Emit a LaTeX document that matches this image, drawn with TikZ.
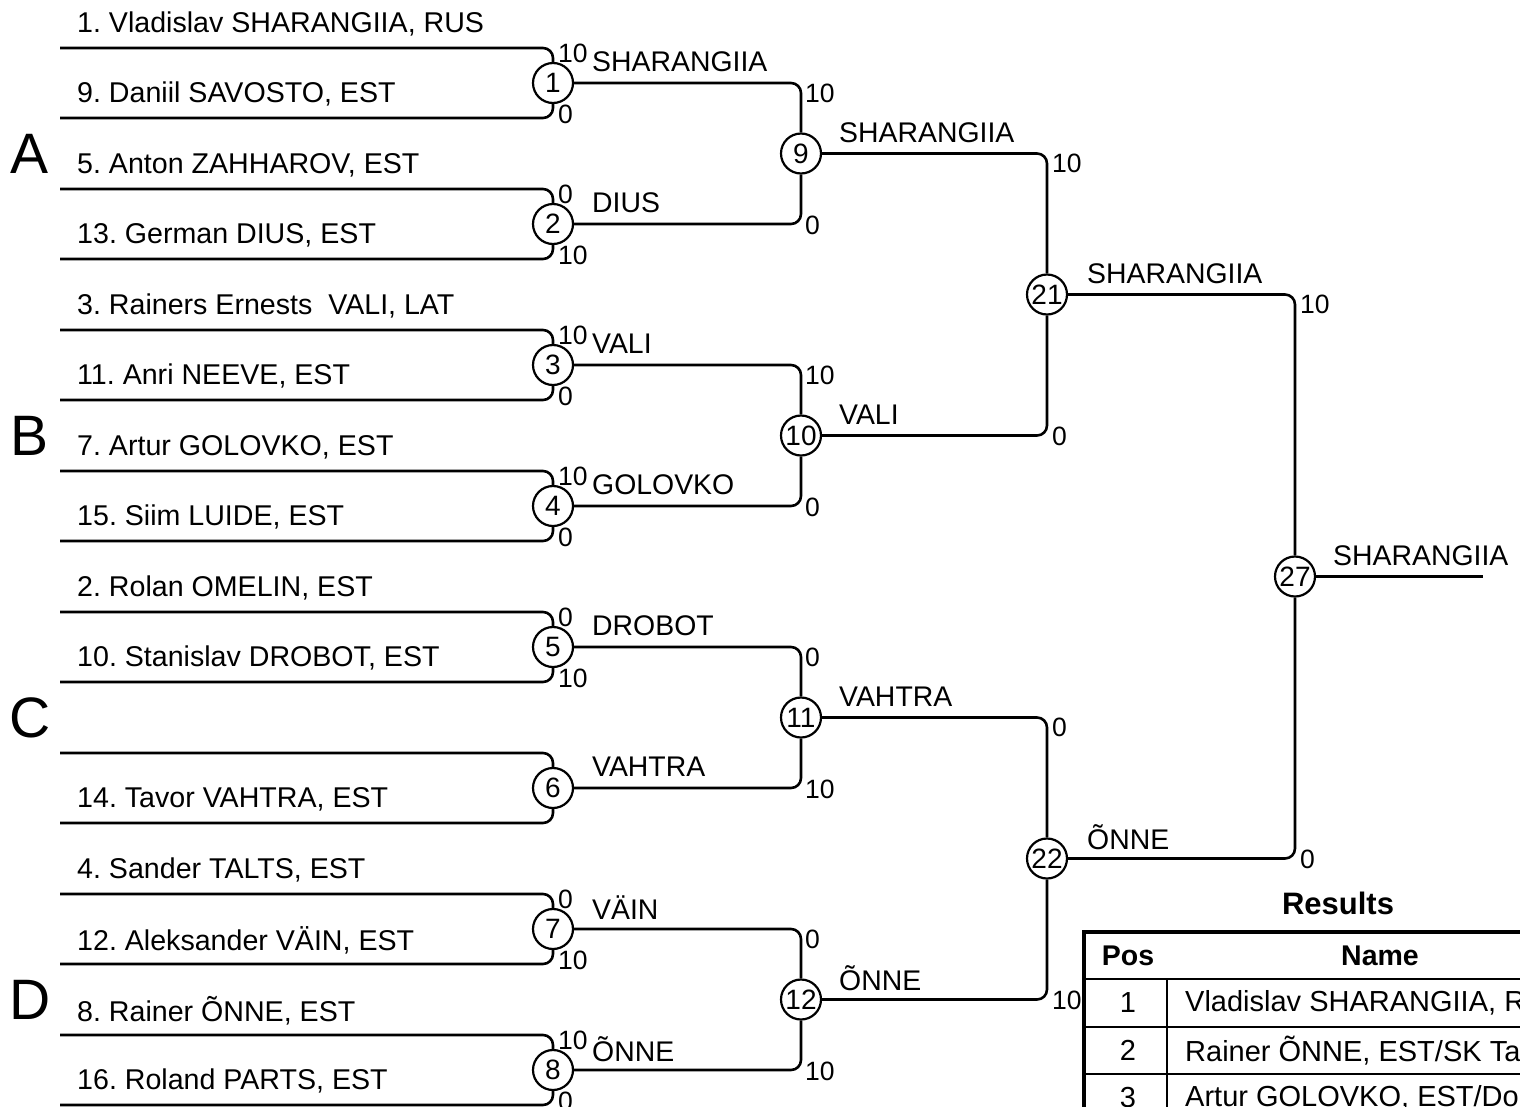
\documentclass[tikz,border=0pt]{standalone}
\usepackage{fontspec}
\setmainfont{Liberation Sans}
\usetikzlibrary{calc}
\begin{document}
\frenchspacing
\begin{tikzpicture}[x=1pt,y=-1pt,
  conn/.style={line width=2.6pt, rounded corners=10pt},
  mc/.style={circle, draw, fill=white, line width=2.2pt, minimum size=40pt, inner sep=0pt, font=\fontsize{28}{28}\selectfont},
  pname/.style={anchor=west, inner sep=0pt, font=\fontsize{28.6}{30}\selectfont},
  wname/.style={anchor=west, inner sep=0pt, font=\fontsize{28.4}{30}\selectfont},
  score/.style={anchor=west, inner sep=0pt, font=\fontsize{26.5}{26}\selectfont},
  grp/.style={inner sep=0pt, font=\fontsize{57}{57}\selectfont},
  cell/.style={inner sep=0pt, font=\fontsize{29}{30}\selectfont},
  hcell/.style={inner sep=0pt, font=\fontsize{28.5}{30}\selectfont\bfseries},
  tline/.style={line width=2.5pt},
  tborder/.style={line width=4.5pt}
]
\useasboundingbox (0,0) rectangle (1520,1106);
\clip (0,0) rectangle (1520,1106);

% ---------- Round 1 ----------
\foreach \k/\ta/\tb/\sa/\sb/\w in {
  1/{1. Vladislav SHARANGIIA, RUS}/{9. Daniil SAVOSTO, EST}/10/0/SHARANGIIA,
  2/{5. Anton ZAHHAROV, EST}/{13. German DIUS, EST}/0/10/DIUS,
  3/{3. Rainers Ernests\ \ VALI, LAT}/{11. Anri NEEVE, EST}/10/0/VALI,
  4/{7. Artur GOLOVKO, EST}/{15. Siim LUIDE, EST}/10/0/GOLOVKO,
  5/{2. Rolan OMELIN, EST}/{10. Stanislav DROBOT, EST}/0/10/DROBOT,
  6/{}/{14. Tavor VAHTRA, EST}/{}/{}/VAHTRA,
  7/{4. Sander TALTS, EST}/{12. Aleksander VÄIN, EST}/0/10/VÄIN,
  8/{8. Rainer ÕNNE, EST}/{16. Roland PARTS, EST}/10/0/ÕNNE}{
  \pgfmathsetmacro\yt{48+141*(\k-1)}
  \pgfmathsetmacro\yb{118+141*(\k-1)}
  \pgfmathsetmacro\yc{83+141*(\k-1)}
  \coordinate (t\k) at (60,\yt);
  \coordinate (b\k) at (60,\yb);
  \node[mc] (m\k) at (553,\yc) {\k};
  \draw[conn] (t\k) -| (m\k.north);
  \draw[conn] (b\k) -| (m\k.south);
  \node[pname] (pa\k) at (77,\yt-24) {\ta};
  \node[pname] (pb\k) at (77,\yb-24) {\tb};
  \node[score] (sa\k) at (558,\yt+5) {\sa};
  \node[score] (sb\k) at (558,\yb-4) {\sb};
  \node[wname] (w\k) at (592,\yc-21) {\w};
}

% ---------- Round 2 ----------
\foreach \j/\a/\b/\sa/\sb/\w in {
  9/1/2/10/0/SHARANGIIA,
  10/3/4/10/0/VALI,
  11/5/6/0/10/VAHTRA,
  12/7/8/0/10/ÕNNE}{
  \pgfmathsetmacro\yc{153.5+282*(\j-9)}
  \pgfmathsetmacro\ya{83+141*(\a-1)}
  \pgfmathsetmacro\ybb{83+141*(\b-1)}
  \node[mc] (m\j) at (801,\yc) {\j};
  \draw[conn] (m\a.east) -| (m\j.north);
  \draw[conn] (m\b.east) -| (m\j.south);
  \node[score] (sa\j) at (805,\ya+10) {\sa};
  \node[score] (sb\j) at (805,\ybb+1) {\sb};
  \node[wname] (w\j) at (839,\yc-21) {\w};
}

% ---------- Round 3 ----------
\node[mc] (m21) at (1047,294.5) {21};
\node[mc] (m22) at (1047,858.5) {22};
\draw[conn] (m9.east) -| (m21.north);
\draw[conn] (m10.east) -| (m21.south);
\draw[conn] (m11.east) -| (m22.north);
\draw[conn] (m12.east) -| (m22.south);
\node[score] (s21a) at (1052,163.5) {10};
\node[score] (s21b) at (1052,436.5) {0};
\node[score] (s22a) at (1052,727.5) {0};
\node[score] (s22b) at (1052,1000.5) {10};
\node[wname] (w21) at (1087,273.5) {SHARANGIIA};
\node[wname] (w22) at (1087,837.5) {ÕNNE};

% ---------- Final ----------
\node[mc] (m27) at (1295,576.5) {27};
\draw[conn] (m21.east) -| (m27.north);
\draw[conn] (m22.east) -| (m27.south);
\node[score] (s27a) at (1300,304.5) {10};
\node[score] (s27b) at (1300,859.5) {0};
\coordinate (fin) at (1483,576.5);
\draw[conn] (m27.east) -- (fin);
\node[wname] (w27) at (1333,555.5) {SHARANGIIA};

% ---------- Group letters ----------
\node[grp] (gA) at (30,153.5) {A};
\node[grp] (gB) at (30,435.5) {B};
\node[grp] (gC) at (30,717.5) {C};
\node[grp] (gD) at (30,999.5) {D};

% ---------- Results table ----------
\node[inner sep=0pt, font=\fontsize{31}{31}\selectfont\bfseries] (restitle) at (1338,903) {Results};
\draw[tline] (1084,979) -- (1620,979);
\draw[tline] (1084,1027) -- (1620,1027);
\draw[tline] (1084,1074) -- (1620,1074);
\draw[tline] (1167,979) -- (1167,1130);
\draw[tborder] (1620,932) -- (1084,932) -- (1084,1130);
\node[hcell] (hpos) at (1128,955.5) {Pos};
\node[hcell] (hname) at (1380,955.5) {Name};
\node[cell] (r1p) at (1128,1003) {1};
\node[cell,anchor=west] (r1n) at (1185,1003) {Vladislav SHARANGIIA, RUS};
\node[cell] (r2p) at (1128,1050.5) {2};
\node[cell,anchor=west] (r2n) at (1185,1050.5) {Rainer ÕNNE, EST/SK Tai};
\node[cell] (r3p) at (1128,1097.5) {3};
\node[cell,anchor=west] (r3n) at (1185,1097.5) {Artur GOLOVKO, EST/Doc};
\end{tikzpicture}
\end{document}
